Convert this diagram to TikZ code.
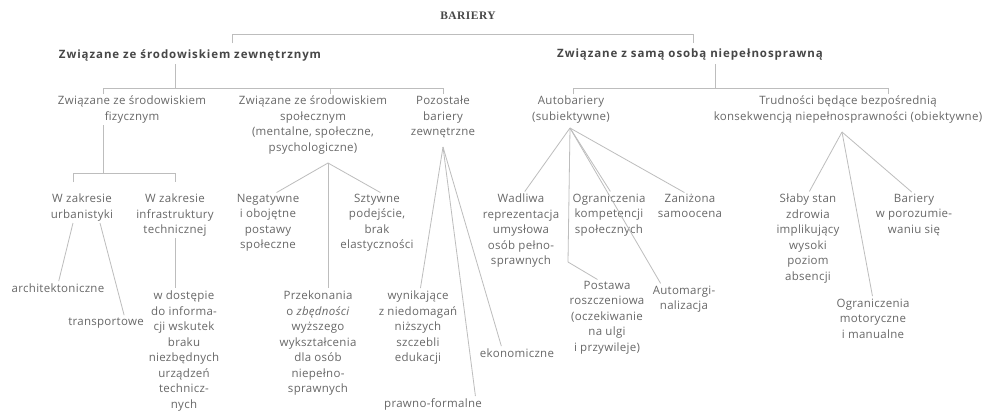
\documentclass[tikz,border=0pt]{standalone}
\usepackage{fontspec}
\setmainfont{Open Sans}
\newfontfamily\bodyf[LetterSpace=2.5]{Open Sans}
\newfontfamily\headf[LetterSpace=8]{Open Sans}
\newfontfamily\titlefont[LetterSpace=4]{Liberation Serif}
\usetikzlibrary{calc}
\definecolor{txt}{HTML}{686868}
\definecolor{headc}{HTML}{474747}
\definecolor{linec}{HTML}{BDBDBD}
\tikzset{
  lbl/.style={align=center, inner sep=0pt, outer sep=0pt, anchor=north, text=txt,
    font=\bodyf\fontsize{11.5}{15.5}\selectfont},
  head/.style={inner sep=0pt, outer sep=0pt, text=headc,
    font=\headf\bfseries\fontsize{11.5}{14}\selectfont},
  conn/.style={draw=linec, line width=0.8pt},
  tonode/.style={conn, shorten >=3pt},
}
\begin{document}
\begin{tikzpicture}[x=1pt, y=-1pt]
\useasboundingbox[fill=white] (0,0) rectangle (1001,418);

% ---- nodes
\node[text=headc, inner sep=0pt, font=\titlefont\bfseries\fontsize{11.5}{13}\selectfont] (root) at (468,16) {BARIERY};
\node[head] (HA) at (190,55) {Związane ze środowiskiem zewnętrznym};
\node[head] (HB) at (690,55) {Związane z samą osobą niepełnosprawną};

\node[lbl] (A1) at (132,96) {Związane ze środowiskiem\\fizycznym};
\node[lbl] (A2) at (313,96) {Związane ze środowiskiem\\społecznym\\(mentalne, społeczne,\\psychologiczne)};
\node[lbl] (A3) at (443,96) {Pozostałe\\bariery\\zewnętrzne};
\node[lbl] (B1) at (571,96) {Autobariery\\(subiektywne)};
\node[lbl] (B2) at (848,96) {Trudności będące bezpośrednią\\konsekwencją niepełnosprawności (obiektywne)};

\node[lbl] (A1a) at (82,194) {W zakresie\\urbanistyki};
\node[lbl] (A1b) at (175,194) {W zakresie\\infrastruktury\\technicznej};
\node[lbl] (arch) at (58,284) {architektoniczne};
\node[lbl] (trans) at (106,318) {transportowe};
\node[lbl] (dost) at (184,291) {w dostępie\\do informa-\\cji wskutek\\braku\\niezbędnych\\urządzeń\\technicz-\\nych};

\node[lbl] (neg) at (268,194) {Negatywne\\i obojętne\\postawy\\społeczne};
\node[lbl] (szt) at (377,194) {Sztywne\\podejście,\\brak\\elastyczności};
\node[lbl] (prz) at (318,291) {Przekonania\\o \textit{zbędności}\\wyższego\\wykształcenia\\dla osób\\niepełno-\\sprawnych};

\node[lbl] (wyn) at (418,291) {wynikające\\z niedomagań\\niższych\\szczebli\\edukacji};
\node[lbl] (eko) at (517,349) {ekonomiczne};
\node[lbl] (praw) at (433,399) {prawno-formalne};

\node[lbl] (wad) at (521,194) {Wadliwa\\reprezentacja\\umysłowa\\osób pełno-\\sprawnych};
\node[lbl] (ogr) at (609,194) {Ograniczenia\\kompetencji\\społecznych};
\node[lbl] (zan) at (690,194) {Zaniżona\\samoocena};
\node[lbl] (post) at (607,281) {Postawa\\roszczeniowa\\(oczekiwanie\\na ulgi\\i przywileje)};
\node[lbl] (autom) at (684,286) {Automargi-\\nalizacja};

\node[lbl] (slab) at (808,194) {Słaby stan\\zdrowia\\implikujący\\wysoki\\poziom\\absencji};
\node[lbl] (barp) at (914,194) {Bariery\\w porozumie-\\waniu się};
\node[lbl] (ogrm) at (873,299) {Ograniczenia\\motoryczne\\i manualne};

% ---- coordinates
\coordinate (t1) at (232,34);
\coordinate (t2) at (693,34);
\coordinate (haS) at (175,64);
\coordinate (haB) at (175,88);
\coordinate (ha1) at (103,88);
\coordinate (ha2) at (330,88);
\coordinate (ha3) at (443,88);
\coordinate (hbS) at (715,64);
\coordinate (hbB) at (715,88);
\coordinate (hb1) at (573,88);
\coordinate (hb2) at (888,88);
\coordinate (a1S) at (103,125);
\coordinate (a1B) at (103,173);
\coordinate (a1l) at (73,173);
\coordinate (a1r) at (175,173);
\coordinate (ua) at (73,223);
\coordinate (ub) at (100,223);
\coordinate (a1bs) at (175,238);
\coordinate (a2x) at (328,163);
\coordinate (a3x) at (443,147);
\coordinate (b1x) at (570,128);
\coordinate (b1k) at (568,262);
\coordinate (b2x) at (842,132);

% ---- connectors
\draw[conn] ($(t1)+(0,9)$) -- (t1) -- (t2) -- ++(0,9);
\draw[conn] (haS) -- (haB);
\draw[conn] ($(ha1)+(0,6)$) -- (ha1) -- (ha3) -- ++(0,6);
\draw[conn] (ha2) -- ++(0,6);
\draw[conn] (hbS) -- (hbB);
\draw[conn] ($(hb1)+(0,6)$) -- (hb1) -- (hb2) -- ++(0,6);

\draw[conn] (a1S) -- (a1B);
\draw[conn] ($(a1l)+(0,9)$) -- (a1l) -- (a1r) -- ++(0,9);
\draw[tonode] (ua) -- (arch.north);
\draw[tonode] (ub) -- ($(trans.north)!0.5!(trans.north east)$);
\draw[tonode] (a1bs) -- (a1bs |- dost.north);

\draw[tonode] (a2x) -- ($(neg.north)+(6,0)$);
\draw[tonode] (a2x) -- ($(szt.north)+(6,0)$);
\draw[tonode] (a2x) -- (a2x |- prz.north);

\draw[tonode] (a3x) -- ($(wyn.north)+(2,0)$);
\draw[tonode] (a3x) -- ($(eko.north west)!0.3!(eko.north east)$);
\draw[tonode] (a3x) -- ($(praw.north east)+(-6,0)$);

\draw[tonode] (b1x) -- ($(wad.north)+(2,0)$);
\draw[tonode] (b1x) -- ($(ogr.north)+(3,0)$);
\draw[tonode] (b1x) -- ($(zan.north)+(-3,0)$);
\draw[conn] (b1x) -- (b1k);
\draw[tonode] (b1k) -- ($(post.north)+(-7,0)$);
\draw[tonode] (b1x) -- ($(autom.north west)!0.15!(autom.north east)$);

\draw[tonode] (b2x) -- (slab.north);
\draw[tonode] (b2x) -- (barp.north);
\draw[tonode] (b2x) -- (ogrm.north);
\end{tikzpicture}
\end{document}
